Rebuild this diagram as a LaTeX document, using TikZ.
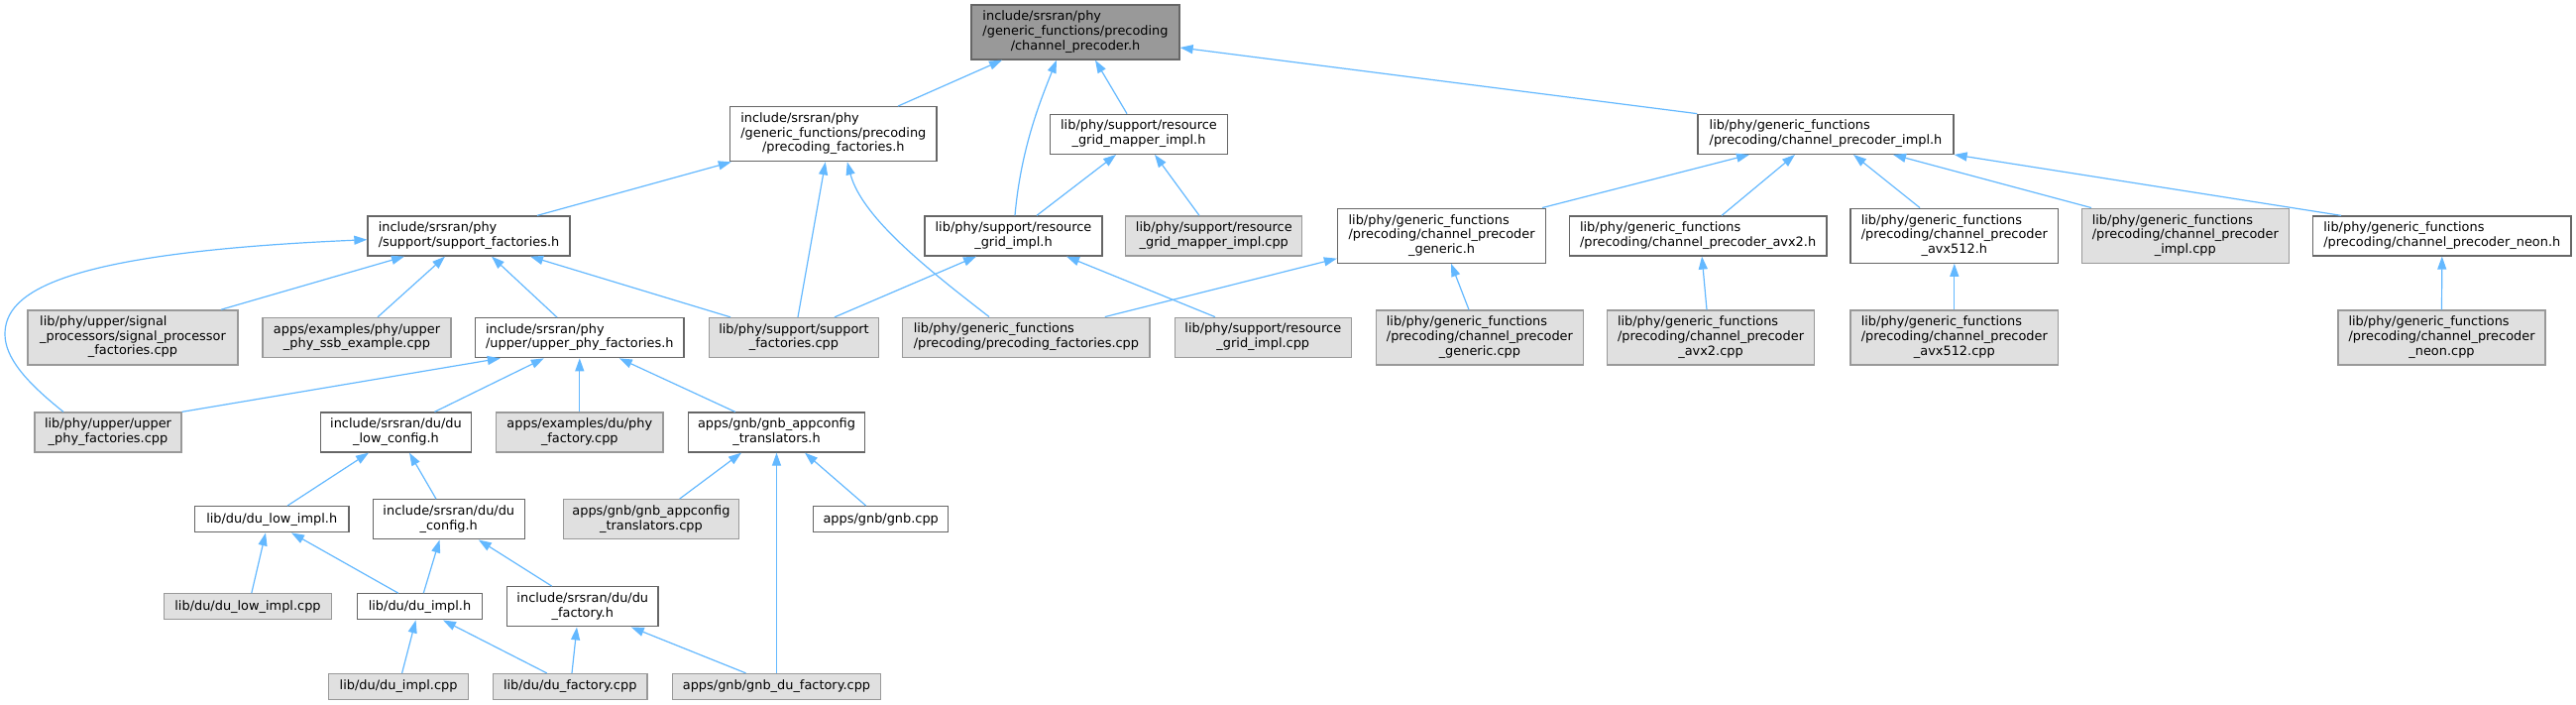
\documentclass[tikz,border=0pt]{standalone}
\usepackage{fontspec}
\setmainfont{DejaVu Sans}
\usetikzlibrary{arrows.meta}
\definecolor{cSix}{HTML}{666666}
\definecolor{cNine}{HTML}{999999}
\definecolor{cGray}{HTML}{E0E0E0}
\definecolor{edgec}{HTML}{63B8FF}
\newcommand{\gfnt}{\fontsize{12.9}{14.6}\selectfont}
\newcommand{\mlab}[2]{\begin{tabular}{@{}l@{}}#1\\\multicolumn{1}{@{}c@{}}{#2}\end{tabular}}
\newcommand{\gnd}[7][box]{\node[#1, minimum width=#5pt, minimum height=#6pt] (#2) at (#3,#4) {#7};}
\tikzset{
  box/.style={draw=cSix, fill=white, line width=1.3pt, inner sep=0pt, font=\gfnt},
  gbox/.style={box, draw=cNine, fill=cGray},
  topbox/.style={box, fill=cNine, draw=cSix},
  edge/.style={draw=edgec, line width=1.2pt, -{Triangle[length=13pt,width=9pt]}},
}
\begin{document}
\begin{tikzpicture}[x=1pt,y=-1pt]
\useasboundingbox (0,0) rectangle (2599,711);
% row 0
\gnd[topbox]{N0}{1085}{32.5}{210}{55}{\mlab{include/srsran/phy\\/generic\_functions/precoding}{/channel\_precoder.h}}
% row 1
\gnd{pfh}{840.8}{135.2}{208.4}{55}{\mlab{include/srsran/phy\\/generic\_functions/precoding}{/precoding\_factories.h}}
\gnd{rgmh}{1149}{135.3}{178.6}{40}{\mlab{lib/phy/support/resource}{\_grid\_mapper\_impl.h}}
\gnd{cpih}{1842}{135.3}{258}{40}{\mlab{lib/phy/generic\_functions}{/precoding/channel\_precoder\_impl.h}}
% row 2
\gnd{sfh}{473}{238}{204}{40}{\mlab{include/srsran/phy}{/support/support\_factories.h}}
\gnd{rgih}{1022.5}{238}{179}{40}{\mlab{lib/phy/support/resource}{\_grid\_impl.h}}
\gnd[gbox]{rgmcpp}{1224.8}{238}{178}{40}{\mlab{lib/phy/support/resource}{\_grid\_mapper\_impl.cpp}}
\gnd{cpgh}{1454.6}{237.7}{210.2}{55}{\mlab{lib/phy/generic\_functions\\/precoding/channel\_precoder}{\_generic.h}}
\gnd{cpavxh}{1713.1}{238}{259.8}{40}{\mlab{lib/phy/generic\_functions}{/precoding/channel\_precoder\_avx2.h}}
\gnd{cpavxfh}{1971.8}{237.7}{209.5}{55}{\mlab{lib/phy/generic\_functions\\/precoding/channel\_precoder}{\_avx512.h}}
\gnd[gbox]{cpimplcpp}{2204.8}{237.7}{209}{55}{\mlab{lib/phy/generic\_functions\\/precoding/channel\_precoder}{\_impl.cpp}}
\gnd{cpneonh}{2463.8}{238}{260.4}{40}{\mlab{lib/phy/generic\_functions}{/precoding/channel\_precoder\_neon.h}}
% row 3
\gnd[gbox]{spfcpp}{134}{340.4}{212}{55}{\mlab{lib/phy/upper/signal\\\_processors/signal\_processor}{\_factories.cpp}}
\gnd[gbox]{ssbcpp}{360}{340.5}{190}{40}{\mlab{apps/examples/phy/upper}{\_phy\_ssb\_example.cpp}}
\gnd{upfh}{584.8}{340.7}{210.4}{40}{\mlab{include/srsran/phy}{/upper/upper\_phy\_factories.h}}
\gnd[gbox]{sfcpp}{801}{340.5}{171}{40}{\mlab{lib/phy/support/support}{\_factories.cpp}}
\gnd[gbox]{pfcpp}{1035.4}{340.2}{249.3}{40}{\mlab{lib/phy/generic\_functions}{/precoding/precoding\_factories.cpp}}
\gnd[gbox]{rgicpp}{1274.3}{340.3}{178}{40}{\mlab{lib/phy/support/resource}{\_grid\_impl.cpp}}
\gnd[gbox]{cpgcpp}{1492.9}{340.5}{209}{55}{\mlab{lib/phy/generic\_functions\\/precoding/channel\_precoder}{\_generic.cpp}}
\gnd[gbox]{cpavxcpp}{1726}{340.5}{209.3}{55}{\mlab{lib/phy/generic\_functions\\/precoding/channel\_precoder}{\_avx2.cpp}}
\gnd[gbox]{cpavxfcpp}{1971.8}{340.5}{209.5}{55}{\mlab{lib/phy/generic\_functions\\/precoding/channel\_precoder}{\_avx512.cpp}}
\gnd[gbox]{cpneoncpp}{2463.5}{340.5}{209}{55}{\mlab{lib/phy/generic\_functions\\/precoding/channel\_precoder}{\_neon.cpp}}
% row 4
\gnd[gbox]{upfcpp}{109}{436}{148}{40}{\mlab{lib/phy/upper/upper}{\_phy\_factories.cpp}}
\gnd{dlch}{399.5}{436}{152.5}{40}{\mlab{include/srsran/du/du}{\_low\_config.h}}
\gnd[gbox]{phyfcpp}{584.8}{436}{168.4}{40}{\mlab{apps/examples/du/phy}{\_factory.cpp}}
\gnd{gath}{783.5}{436}{178}{40}{\mlab{apps/gnb/gnb\_appconfig}{\_translators.h}}
% row 5
\gnd{dlih}{274.2}{523.7}{155.6}{26}{lib/du/du\_low\_impl.h}
\gnd{dch}{452.8}{523.8}{153}{40}{\mlab{include/srsran/du/du}{\_config.h}}
\gnd[gbox]{gatcpp}{656.9}{523.8}{177.3}{40}{\mlab{apps/gnb/gnb\_appconfig}{\_translators.cpp}}
\gnd{gnbcpp}{888.7}{523.7}{135.8}{26}{apps/gnb/gnb.cpp}
% row 6
\gnd[gbox]{dlicpp}{250}{611.8}{169.6}{26}{lib/du/du\_low\_impl.cpp}
\gnd{dih}{423.5}{611.8}{126.3}{26}{lib/du/du\_impl.h}
\gnd{dfh}{587.8}{611.8}{152.5}{40}{\mlab{include/srsran/du/du}{\_factory.h}}
% row 7
\gnd[gbox]{dicpp}{402.1}{692.5}{141}{26}{lib/du/du\_impl.cpp}
\gnd[gbox]{dfcpp}{575.2}{692.5}{155.6}{26}{lib/du/du\_factory.cpp}
\gnd[gbox]{gdfcpp}{783.5}{692.5}{209.8}{26}{apps/gnb/gnb\_du\_factory.cpp}
\coordinate (bend) at (5,337);
% edges
\draw[edge] ([xshift=65.2pt]pfh.north) -- ([xshift=-74pt]N0.south);
\draw[edge] ([xshift=1.5pt]rgih.north) .. controls +(6,-68) and +(-16,40) .. ([xshift=-19pt]N0.south);
\draw[edge] ([xshift=-12pt]rgmh.north) -- ([xshift=20pt]N0.south);
\draw[edge] (cpih.north west) -- ([yshift=-15.5pt]N0.east);
\draw[edge] ([xshift=69pt]sfh.north) -- ([xshift=-103pt]pfh.south);
\draw[edge] ([xshift=4pt]sfcpp.north) -- ([xshift=-8pt]pfh.south);
\draw[edge] ([xshift=-37.4pt]pfcpp.north) .. controls +(-58,-45) and +(15,57) .. ([xshift=14pt]pfh.south);
\draw[edge] ([xshift=89pt]spfcpp.north) -- ([xshift=-65pt]sfh.south);
\draw[edge] ([xshift=21pt]ssbcpp.north) -- ([xshift=-24pt]sfh.south);
\draw[edge] ([xshift=-22.8pt]upfh.north) -- ([xshift=23pt]sfh.south);
\draw[edge] ([xshift=-64pt]sfcpp.north) -- ([xshift=62pt]sfh.south);
\draw[edge] ([xshift=-45pt]upfcpp.north) .. controls +(-39,-31) and +(0,23) .. (bend) .. controls +(0,-42) and +(-311,13.3) .. ([yshift=-3.7pt]sfh.west);
\draw[edge] (upfcpp.north east) -- ([xshift=-80pt]upfh.south);
\draw[edge] ([xshift=39pt]dlch.north) -- ([xshift=-36pt]upfh.south);
\draw[edge] (phyfcpp.north) -- (upfh.south);
\draw[edge] ([xshift=-41.8pt]gath.north) -- ([xshift=40pt]upfh.south);
\draw[edge] ([xshift=23.5pt]rgih.north) -- ([xshift=-23pt]rgmh.south);
\draw[edge] ([xshift=-14.8pt]rgmcpp.north) -- ([xshift=16pt]rgmh.south);
\draw[edge] ([xshift=41pt]sfcpp.north) -- ([xshift=-37.5pt]rgih.south);
\draw[edge] ([xshift=-48.3pt]rgicpp.north) -- ([xshift=53.5pt]rgih.south);
\draw[edge] ([xshift=101.4pt]cpgh.north) -- ([xshift=-77pt]cpih.south);
\draw[edge] ([xshift=24pt]cpavxh.north) -- ([xshift=-31pt]cpih.south);
\draw[edge] ([xshift=-34.8pt]cpavxfh.north) -- ([xshift=28pt]cpih.south);
\draw[edge] ([xshift=-94.8pt]cpimplcpp.north) -- ([xshift=68pt]cpih.south);
\draw[edge] ([xshift=-101.8pt]cpneonh.north) -- (cpih.south east);
\draw[edge] ([xshift=79.4pt]pfcpp.north) -- ([yshift=-23pt]cpgh.west);
\draw[edge] ([xshift=-10.9pt]cpgcpp.north) -- ([xshift=9.4pt]cpgh.south);
\draw[edge] ([xshift=-4pt]cpavxcpp.north) -- ([xshift=4pt]cpavxh.south);
\draw[edge] (cpavxfcpp.north) -- (cpavxfh.south);
\draw[edge] (cpneoncpp.north) -- (cpneonh.south);
\draw[edge] ([xshift=15.8pt]dlih.north) -- ([xshift=-27.5pt]dlch.south);
\draw[edge] ([xshift=-12.8pt]dch.north) -- ([xshift=13.5pt]dlch.south);
\draw[edge] ([xshift=28.7pt]gatcpp.north) -- ([xshift=-35.5pt]gath.south);
\draw[edge] (gdfcpp.north) -- (gath.south);
\draw[edge] ([xshift=-15pt]gnbcpp.north) -- ([xshift=28.5pt]gath.south);
\draw[edge] ([xshift=3.8pt]dlicpp.north) -- ([xshift=-6.2pt]dlih.south);
\draw[edge] ([xshift=-21.7pt]dih.north) -- ([xshift=19.8pt]dlih.south);
\draw[edge] ([xshift=3.8pt]dih.north) -- ([xshift=-9.3pt]dch.south);
\draw[edge] ([xshift=-31pt]dfh.north) -- ([xshift=30pt]dch.south);
\draw[edge] ([xshift=3.5pt]dicpp.north) -- ([xshift=-4pt]dih.south);
\draw[edge] ([xshift=-23.5pt]dfcpp.north) -- ([xshift=23.5pt]dih.south);
\draw[edge] ([xshift=1.8pt]dfcpp.north) -- ([xshift=-5.8pt]dfh.south);
\draw[edge] ([xshift=-31pt]gdfcpp.north) -- ([xshift=49pt]dfh.south);
\end{tikzpicture}
\end{document}
